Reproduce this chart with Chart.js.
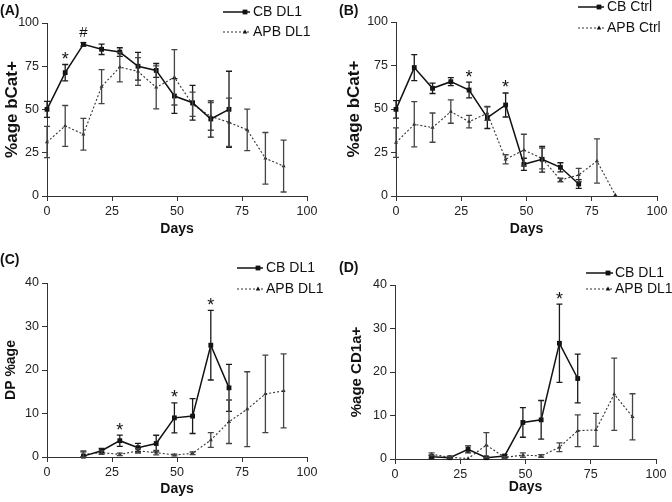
<!DOCTYPE html>
<html>
<head>
<meta charset="utf-8">
<script src="https://cdn.jsdelivr.net/npm/chart.js@4.4.1/dist/chart.umd.min.js"></script>
<style>
  html, body { margin: 0; padding: 0; background: #fff; }
  #wrap { position: relative; width: 672px; height: 502px; overflow: hidden; }
  canvas { position: absolute; }
</style>
</head>
<body>
<div id="wrap">
  <canvas id="cA" width="336" height="240" style="left:0;top:0"></canvas>
  <canvas id="cB" width="336" height="240" style="left:336px;top:0"></canvas>
  <canvas id="cC" width="336" height="262" style="left:0;top:240px"></canvas>
  <canvas id="cD" width="336" height="262" style="left:336px;top:240px"></canvas>
</div>
<script>
// ---------- data ----------
const days = [0, 7, 14, 21, 28, 35, 42, 49, 56, 63, 70, 77, 84, 91];
const xTicks = [0, 25, 50, 75, 100];
const yTicksPct = [0, 25, 50, 75, 100];
const yTicks40 = [0, 10, 20, 30, 40];

// (A) %age bCat+ with DL1
const cbDL1_bcat     = [50.1, 71.3, 87.7, 84.8, 83.2, 75.0, 72.6, 57.8, 53.9, 44.5, 50.1, null, null, null];
const cbDL1_bcatErr  = [4.6, 4.7, 1.0, 3.0, 2.5, 8.0, 4.0, 10.0, 10.0, 10.5, 22.0, null, null, null];
const apbDL1_bcat    = [31.2, 40.5, 35.7, 63.2, 74.5, 72.0, 62.8, 68.6, 53.0, 46.0, 42.6, 38.2, 21.8, 17.3];
const apbDL1_bcatErr = [9.0, 11.8, 9.2, 9.8, 8.5, 8.0, 12.4, 16.0, 7.0, 8.0, 14.0, 12.0, 14.9, 15.0];

// (B) %age bCat+ control
const cbCtrl_bcat     = [49.8, 73.8, 61.9, 65.7, 60.9, 45.0, 52.3, 18.2, 21.1, 16.5, 6.9, null, null, null];
const cbCtrl_bcatErr  = [5.0, 7.5, 3.0, 2.3, 4.5, 6.2, 6.9, 3.5, 7.4, 2.6, 2.5, null, null, null];
const apbCtrl_bcat    = [30.7, 41.2, 39.3, 48.5, 42.7, 47.5, 21.1, 26.4, 21.6, 9.2, 12.1, 20.1, 0.6, null];
const apbCtrl_bcatErr = [8.5, 13.0, 8.4, 6.7, 3.6, 4.0, 2.6, 9.1, 6.0, 1.0, 3.8, 12.7, 0, null];

// (C) DP %age
const cbDL1_dp     = [null, null, 0.2, 1.45, 3.75, 2.15, 3.1, 9.0, 9.4, 25.7, 15.9, null, null, null];
const cbDL1_dpErr  = [null, null, 1.0, 0.5, 1.3, 1.0, 1.9, 3.45, 4.0, 8.0, 5.4, null, null, null];
const apbDL1_dp    = [null, null, 0.6, 1.0, 0.6, 1.4, 1.0, 0.45, 0.85, 3.9, 8.1, 11.0, 14.5, 15.2];
const apbDL1_dpErr = [null, null, 0.8, 0.4, 0.3, 0.5, 0.5, 0.2, 0.3, 1.7, 5.0, 8.6, 8.9, 8.5];

// (D) %age CD1a+
const cbDL1_cd1a     = [null, null, 0.5, 0.3, 2.2, 0.3, 0.7, 8.4, 9.0, 26.6, 18.5, null, null, null];
const cbDL1_cd1aErr  = [null, null, 0.3, 0.2, 0.8, 0.2, 0.3, 3.4, 4.45, 9.0, 5.6, null, null, null];
const apbDL1_cd1a    = [null, null, 1.1, 0.4, 0.1, 3.2, 0.35, 0.9, 0.7, 2.7, 6.5, 6.7, 14.9, 9.7];
const apbDL1_cd1aErr = [null, null, 0.3, 0.2, 0, 2.85, 0.2, 0.5, 0.3, 1.0, 3.65, 3.8, 8.3, 5.3];

// significance marks: [series, day, symbol]
const marksA = [['cb', 7, '*'], ['cb', 14, '#']];
const marksB = [['cb', 28, '*'], ['cb', 42, '*']];
const marksC = [['cb', 28, '*'], ['cb', 49, '*'], ['cb', 63, '*']];
const marksD = [['cb', 63, '*']];

// ---------- helpers ----------
const FONT = "'Liberation Sans', Arial, sans-serif";

function series(vals, errs) {
  const pts = [], e = [];
  vals.forEach((v, i) => {
    if (v !== null && v !== undefined) { pts.push({ x: days[i], y: v }); e.push(errs[i] || 0); }
  });
  return { pts, e };
}

function cbDataset(label, vals, errs) {
  const s = series(vals, errs);
  return {
    label, kind: 'cb', data: s.pts, errs: s.e,
    borderColor: '#111', backgroundColor: '#111', borderWidth: 1.5,
    pointStyle: 'rect', pointRadius: 3.4, pointBorderWidth: 0,
    errColor: '#1a1a1a', clip: false, tension: 0
  };
}
function apbDataset(label, vals, errs) {
  const s = series(vals, errs);
  return {
    label, kind: 'apb', data: s.pts, errs: s.e,
    borderColor: '#333', backgroundColor: '#222', borderWidth: 1.1, borderDash: [2, 2],
    pointStyle: 'triangle', pointRadius: 2.3, pointBorderWidth: 0,
    errColor: '#444', clip: false, tension: 0
  };
}

function drawMarker(ctx, kind, x, y) {
  ctx.save();
  ctx.fillStyle = '#111';
  if (kind === 'cb') {
    ctx.fillRect(x - 2.4, y - 2.4, 4.8, 4.8);
  } else {
    ctx.beginPath();
    ctx.moveTo(x, y - 2.6); ctx.lineTo(x + 2.3, y + 1.4); ctx.lineTo(x - 2.3, y + 1.4);
    ctx.closePath(); ctx.fill();
  }
  ctx.restore();
}

const decoPlugin = {
  id: 'deco',
  afterDatasetsDraw(chart, args, o) {
    const ctx = chart.ctx, ys = chart.scales.y;
    // error bars
    chart.data.datasets.forEach((ds, di) => {
      const meta = chart.getDatasetMeta(di);
      ctx.save();
      ctx.strokeStyle = ds.errColor; ctx.lineWidth = 1.3; ctx.setLineDash([]);
      meta.data.forEach((pt, i) => {
        const e = ds.errs[i];
        if (!e) return;
        const v = ds.data[i].y;
        const yt = ys.getPixelForValue(v + e);
        const yb = ys.getPixelForValue(Math.max(0, v - e));
        ctx.beginPath();
        ctx.moveTo(pt.x, yt); ctx.lineTo(pt.x, yb);
        ctx.moveTo(pt.x - 3, yt); ctx.lineTo(pt.x + 3, yt);
        ctx.moveTo(pt.x - 3, yb); ctx.lineTo(pt.x + 3, yb);
        ctx.stroke();
      });
      ctx.restore();
    });
    // significance marks
    ctx.save();
    ctx.fillStyle = '#111';
    ctx.textAlign = 'center';
    ctx.textBaseline = 'alphabetic';
    (o.marks || []).forEach(([kind, day, sym]) => {
      const di = chart.data.datasets.findIndex(d => d.kind === kind);
      const ds = chart.data.datasets[di];
      const i = ds.data.findIndex(p => p.x === day);
      const pt = chart.getDatasetMeta(di).data[i];
      const top = ys.getPixelForValue(ds.data[i].y + (ds.errs[i] || 0));
      if (sym === '*') {
        ctx.font = `18px ${FONT}`;
        ctx.fillText(sym, pt.x, top + 0.5);
      } else {
        ctx.font = `15px ${FONT}`;
        ctx.fillText(sym, pt.x, top - 5.5);
      }
    });
    ctx.restore();
    // legend
    const L = o.legend;
    ctx.save();
    chart.data.datasets.forEach((ds, di) => {
      const y = L.rows[di];
      ctx.strokeStyle = ds.borderColor;
      ctx.lineWidth = ds.kind === 'cb' ? 1.5 : 1.1;
      ctx.setLineDash(ds.kind === 'cb' ? [] : [2, 2]);
      ctx.beginPath(); ctx.moveTo(L.x1, y); ctx.lineTo(L.x2, y); ctx.stroke();
      ctx.setLineDash([]);
      drawMarker(ctx, ds.kind, L.x2 - 5, y);
      ctx.fillStyle = '#111';
      ctx.font = `14px ${FONT}`;
      ctx.textAlign = 'left'; ctx.textBaseline = 'middle';
      ctx.fillText(ds.label, L.tx, y + 0.5);
    });
    // panel label
    ctx.font = `bold 14px ${FONT}`;
    ctx.textAlign = 'left'; ctx.textBaseline = 'middle';
    ctx.fillStyle = '#111';
    ctx.fillText(o.label.text, o.label.x, o.label.y);
    ctx.restore();
  }
};

function makePanel(id, cfg) {
  const canvas = document.getElementById(id);
  const W = canvas.width, H = canvas.height;
  return new Chart(canvas, {
    type: 'line',
    data: { datasets: cfg.datasets },
    options: {
      responsive: false, animation: false, devicePixelRatio: 1,
      layout: { padding: { left: 0, top: cfg.area.top, right: W - cfg.area.right, bottom: 0 } },
      plugins: {
        legend: { display: false }, tooltip: { enabled: false },
        deco: { marks: cfg.marks, legend: cfg.legend, label: cfg.label }
      },
      scales: {
        x: {
          type: 'linear', min: 0, max: 100,
          afterBuildTicks: s => { s.ticks = xTicks.map(v => ({ value: v })); },
          afterFit: s => { s.height = H - cfg.area.bottom; },
          grid: { drawOnChartArea: false, drawTicks: true, tickLength: 5, color: '#333', lineWidth: 1 },
          border: { display: true, color: '#333', width: 1 },
          ticks: { color: '#222', padding: cfg.xTickPad, font: { family: FONT, size: 12.5 }, maxRotation: 0 },
          title: { display: true, text: 'Days', color: '#111', font: { family: FONT, size: 14, weight: 'bold' },
                   padding: { top: 0, bottom: cfg.xTitlePad } }
        },
        y: {
          type: 'linear', min: 0, max: cfg.yMax,
          afterBuildTicks: s => { s.ticks = cfg.yTicks.map(v => ({ value: v })); },
          afterFit: s => { s.width = cfg.area.left; },
          grid: { drawOnChartArea: false, drawTicks: true, tickLength: 5, color: '#333', lineWidth: 1 },
          border: { display: true, color: '#333', width: 1 },
          ticks: { color: '#222', padding: 3, font: { family: FONT, size: 12.5 } },
          title: { display: true, text: cfg.yTitle, color: '#111', font: { family: FONT, size: cfg.yTitleSize, weight: 'bold' },
                   padding: { top: cfg.yTitleX - cfg.yTitleSize * 0.6, bottom: 0 } }
        }
      }
    },
    plugins: [decoPlugin]
  });
}

makePanel('cA', {
  datasets: [cbDataset('CB DL1', cbDL1_bcat, cbDL1_bcatErr), apbDataset('APB DL1', apbDL1_bcat, apbDL1_bcatErr)],
  area: { left: 47, right: 307, top: 23, bottom: 196 },
  yMax: 100, yTicks: yTicksPct, yTitle: '%age bCat+', yTitleX: 12, yTitleSize: 17,
  xTickPad: 3, xTitlePad: 2.5,
  marks: marksA,
  legend: { x1: 223, x2: 250, tx: 253, rows: [12, 32] },
  label: { text: '(A)', x: 0, y: 11 }
});
makePanel('cB', {
  datasets: [cbDataset('CB Ctrl', cbCtrl_bcat, cbCtrl_bcatErr), apbDataset('APB Ctrl', apbCtrl_bcat, apbCtrl_bcatErr)],
  area: { left: 60, right: 321, top: 22, bottom: 196 },
  yMax: 100, yTicks: yTicksPct, yTitle: '%age bCat+', yTitleX: 18, yTitleSize: 17,
  xTickPad: 3, xTitlePad: 2.5,
  marks: marksB,
  legend: { x1: 242, x2: 268, tx: 271, rows: [7, 28] },
  label: { text: '(B)', x: 3, y: 11 }
});
makePanel('cC', {
  datasets: [cbDataset('CB DL1', cbDL1_dp, cbDL1_dpErr), apbDataset('APB DL1', apbDL1_dp, apbDL1_dpErr)],
  area: { left: 47, right: 307, top: 43, bottom: 217 },
  yMax: 40, yTicks: yTicks40, yTitle: 'DP %age', yTitleX: 11, yTitleSize: 14,
  xTickPad: 3, xTitlePad: 4,
  marks: marksC,
  legend: { x1: 237, x2: 263, tx: 266, rows: [28, 49] },
  label: { text: '(C)', x: 0, y: 20 }
});
makePanel('cD', {
  datasets: [cbDataset('CB DL1', cbDL1_cd1a, cbDL1_cd1aErr), apbDataset('APB DL1', apbDL1_cd1a, apbDL1_cd1aErr)],
  area: { left: 59, right: 320, top: 45, bottom: 219 },
  yMax: 40, yTicks: yTicks40, yTitle: '%age CD1a+', yTitleX: 21, yTitleSize: 15,
  xTickPad: 3, xTitlePad: 6.5,
  marks: marksD,
  legend: { x1: 250, x2: 277, tx: 279, rows: [33, 49] },
  label: { text: '(D)', x: 3, y: 28 }
});
</script>
</body>
</html>
